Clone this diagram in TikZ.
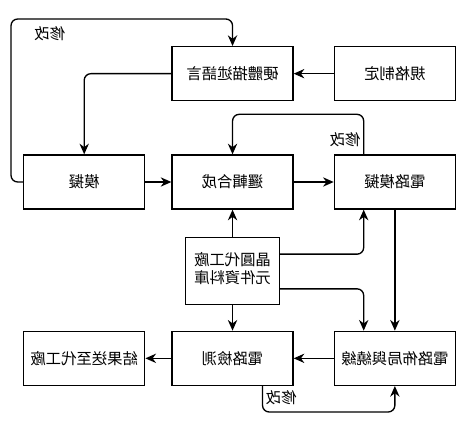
\documentclass[tikz,border=0pt]{standalone}
\usepackage{fontspec}
\usepackage{graphicx}
\newfontfamily\cjk{Noto Sans CJK TC}
\newcommand{\mirrortext}[1]{\reflectbox{#1}}
\usetikzlibrary{arrows.meta, positioning}

\begin{document}
\begin{tikzpicture}[
		font=\cjk\fontsize{11.5pt}{14pt}\selectfont,
		box/.style={draw, rectangle, line width=1pt, align=center, inner sep=0pt, minimum width=90.75pt, minimum height=40.5pt},
		arrow/.style={-{Stealth[length=8pt, width=7pt]}, line width=1pt, rounded corners=5pt},
		fixnote/.style={inner sep=2pt}
		]
		
		\useasboundingbox (-174.4pt,-179.25pt) rectangle (176.6pt,136.5pt);
		
		% Middle row
		\node (synth) [box] at (0,0) {\mirrortext{邏輯合成}};
		\node (sim) [box, left=19.5pt of synth] {\mirrortext{模擬}};
		\node (csim) [box, right=30pt of synth] {\mirrortext{電路模擬}};
		
		% Top row
		\node (hdl) [box, above=39.75pt of synth] {\mirrortext{硬體描述語言}};
		\node (spec) [box, right=30pt of hdl] {\mirrortext{規格制定}};
		
		% Library
		\node (lib) [box, below=20.25pt of synth, minimum width=70.5pt, minimum height=50.25pt] {\mirrortext{\begin{tabular}{@{}l@{}}晶圓代工廠\\元件資料庫\end{tabular}}};
		
		% Bottom row
		\node (check) [box, below=90.75pt of synth] {\mirrortext{電路檢測}};
		\node (result) [box, left=19.5pt of check] {\mirrortext{結果送至代工廠}};
		\node (layout) [box, right=30pt of check] {\mirrortext{電路佈局與繞線}};
		
		% Arrows
		\draw[arrow] (spec) -- (hdl);
		\draw[arrow] (hdl.west) -| (sim.north);
		\draw[arrow] (sim.west) -- ++(-9pt,0) |- ([yshift=20.25pt]hdl.north) node[fixnote, pos=0.5, anchor=north west, xshift=15pt, yshift=-3pt] {\mirrortext{修改}} -- (hdl.north);
		
		\draw[arrow] (sim) -- (synth);
		\draw[arrow] (synth) -- (csim);
		\draw[arrow] ([xshift=22.5pt]csim.north west) |- ([yshift=30pt]synth.north) node[fixnote, pos=0.18, anchor=east] {\mirrortext{修改}} -- (synth.north);
		
		\draw[arrow] (lib) -- (synth);
		\draw[arrow] ([yshift=12.5pt]lib.east) -| ([xshift=22.5pt]csim.south west);
		\draw[arrow] ([yshift=-13.5pt]lib.east) -| ([xshift=22.5pt]layout.north west);
		\draw[arrow] (lib) -- (check);
		\draw[arrow] (csim) -- (layout);
		
		\draw[arrow] (layout) -- (check);
		\draw[arrow] (check) -- (result);
		\draw[arrow] ([xshift=22.5pt]check.south) |- ([yshift=-19.5pt]layout.south) node[fixnote, pos=0.23, anchor=west] {\mirrortext{修改}} -- (layout.south);
		
	\end{tikzpicture}
\end{document}
